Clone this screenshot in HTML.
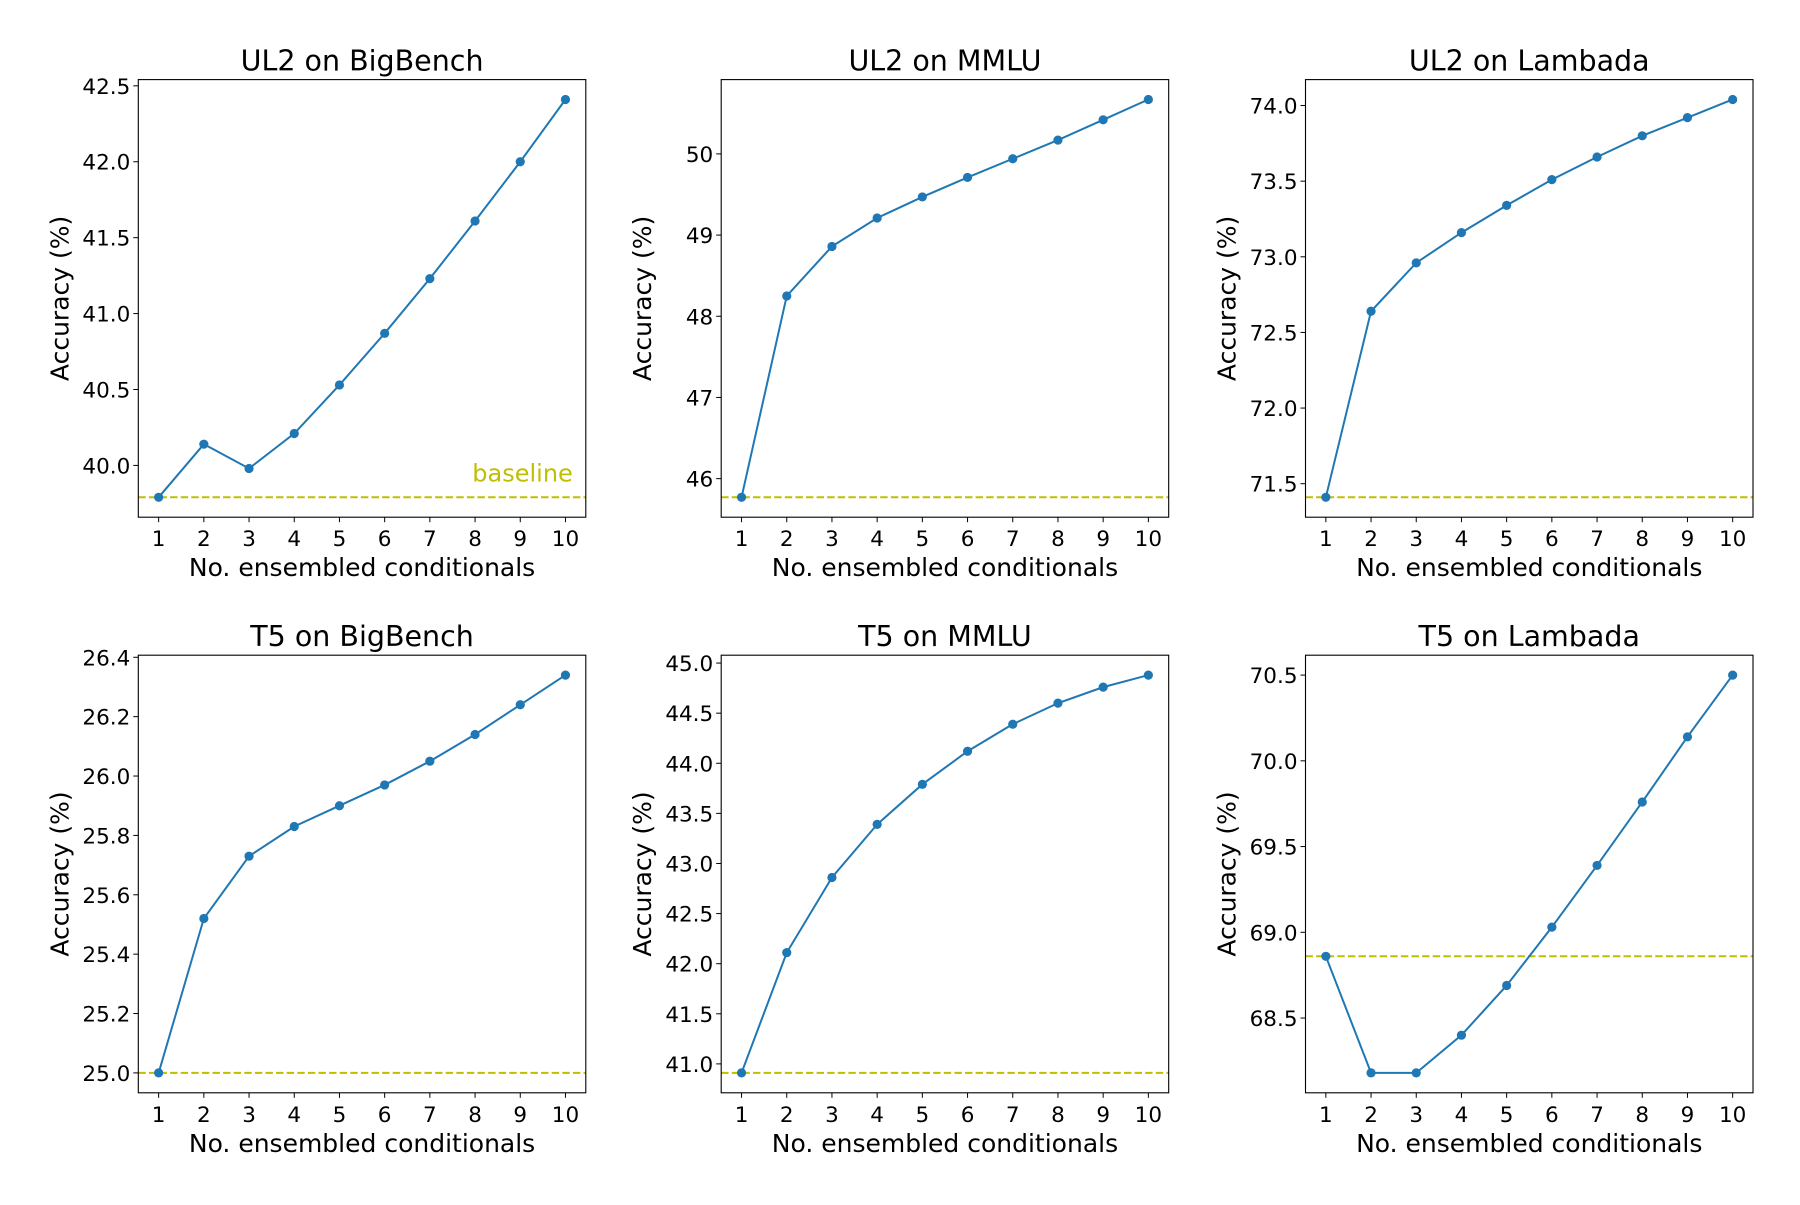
<!DOCTYPE html>
<html><head><meta charset="utf-8"><style>
html,body{margin:0;padding:0;background:#fff;}
svg text{font-family:"DejaVu Sans","Liberation Sans",sans-serif;fill:#000;}
</style></head><body>
<svg id="fig" width="1800" height="1200" viewBox="0 0 1800 1200" xmlns="http://www.w3.org/2000/svg"></svg>
<script>
const conditionals = [1,2,3,4,5,6,7,8,9,10];
const titles = ["UL2 on BigBench","UL2 on MMLU","UL2 on Lambada","T5 on BigBench","T5 on MMLU","T5 on Lambada"];
const ul2BigBench = [39.79,40.14,39.98,40.21,40.53,40.87,41.23,41.61,42.00,42.41];
const ul2Mmlu = [45.77,48.25,48.86,49.21,49.47,49.71,49.94,50.17,50.42,50.67];
const ul2Lambada = [71.41,72.64,72.96,73.16,73.34,73.51,73.66,73.80,73.92,74.04];
const t5BigBench = [25.00,25.52,25.73,25.83,25.90,25.97,26.05,26.14,26.24,26.34];
const t5Mmlu = [40.91,42.11,42.86,43.39,43.79,44.12,44.39,44.60,44.76,44.88];
const t5Lambada = [68.86,68.18,68.18,68.40,68.69,69.03,69.39,69.76,70.14,70.50];
const baselines = [39.79,45.77,71.41,25.00,40.91,68.86];
const ticks0 = [40.0,40.5,41.0,41.5,42.0,42.5];
const ticks1 = [46,47,48,49,50];
const ticks2 = [71.5,72.0,72.5,73.0,73.5,74.0];
const ticks3 = [25.0,25.2,25.4,25.6,25.8,26.0,26.2,26.4];
const ticks4 = [41.0,41.5,42.0,42.5,43.0,43.5,44.0,44.5,45.0];
const ticks5 = [68.5,69.0,69.5,70.0,70.5];
const tickDec = [1,0,1,1,1,1];
const series = [ul2BigBench,ul2Mmlu,ul2Lambada,t5BigBench,t5Mmlu,t5Lambada];
const tickSets = [ticks0,ticks1,ticks2,ticks3,ticks4,ticks5];

const NS="http://www.w3.org/2000/svg";
const svg=document.getElementById('fig');
function mk(tag,attrs,parent){const e=document.createElementNS(NS,tag);for(const k in attrs)e.setAttribute(k,attrs[k]);(parent||svg).appendChild(e);return e;}
const lefts=[138.3,721.2,1305.5], W=447.5, tops=[79.6,655.2], H=437.6;
const slug=t=>t.toLowerCase().replace(/ /g,'-');
for(let p=0;p<6;p++){
  const L=lefts[p%3], T=tops[Math.floor(p/3)];
  const g=mk('g',{});
  
  
  const d=series[p], b=baselines[p];
  let mn=Math.min(...d,b), mx=Math.max(...d,b), pad=(mx-mn)*0.05;
  const y0=mn-pad,y1=mx+pad;
  const xs=v=>L+(v-0.55)/(9.9)*W;
  const ys=v=>T+H-(v-y0)/(y1-y0)*H;
  const bl=mk('line',{x1:L,x2:L+W,y1:ys(b),y2:ys(b),stroke:'#bfbf00','stroke-width':2,'stroke-dasharray':'7.4,3.2'},g);
  
  
  if(p===0){const bt=mk('text',{x:L+W-13,y:ys(b)-16,'text-anchor':'end','font-size':24,style:'fill:#bfbf00'},g);bt.textContent='baseline';
    
    }
  const pts=d.map((v,i)=>xs(conditionals[i]).toFixed(2)+','+ys(v).toFixed(2)).join(' ');
  const pl=mk('polyline',{points:pts,fill:'none',stroke:'#1f77b4','stroke-width':2},g);
  
  
  d.forEach((v,i)=>{const c=mk('circle',{cx:xs(conditionals[i]),cy:ys(v),r:4.6,fill:'#1f77b4'},g);
    
    });
  const fr=mk('rect',{x:L,y:T,width:W,height:H,fill:'none',stroke:'#000','stroke-width':1.1},g);
  
  
  conditionals.forEach(c=>{const x=xs(c);mk('line',{x1:x,x2:x,y1:T+H,y2:T+H+5,stroke:'#000','stroke-width':1},g);
    const t=mk('text',{x:x,y:T+H+29,'text-anchor':'middle','font-size':21.5},g);t.textContent=c;
    
    });
  tickSets[p].forEach(v=>{const y=ys(v);mk('line',{x1:L-5,x2:L,y1:y,y2:y,stroke:'#000','stroke-width':1},g);
    const t=mk('text',{x:L-8,y:y+8,'text-anchor':'end','font-size':21.5},g);t.textContent=v.toFixed(tickDec[p]);
    
    });
  const xl=mk('text',{x:L+W/2,y:T+H+59,'text-anchor':'middle','font-size':25},g);xl.textContent='No. ensembled conditionals';
  
  
  const yl=mk('text',{x:0,y:0,'text-anchor':'middle','font-size':25,transform:`translate(${L-70},${T+H/2}) rotate(-90)`},g);yl.textContent='Accuracy (%)';
  
  
  const tt=mk('text',{x:L+W/2,y:T-9,'text-anchor':'middle','font-size':28.5},g);tt.textContent=titles[p];
  
  
}
</script>
</body></html>
